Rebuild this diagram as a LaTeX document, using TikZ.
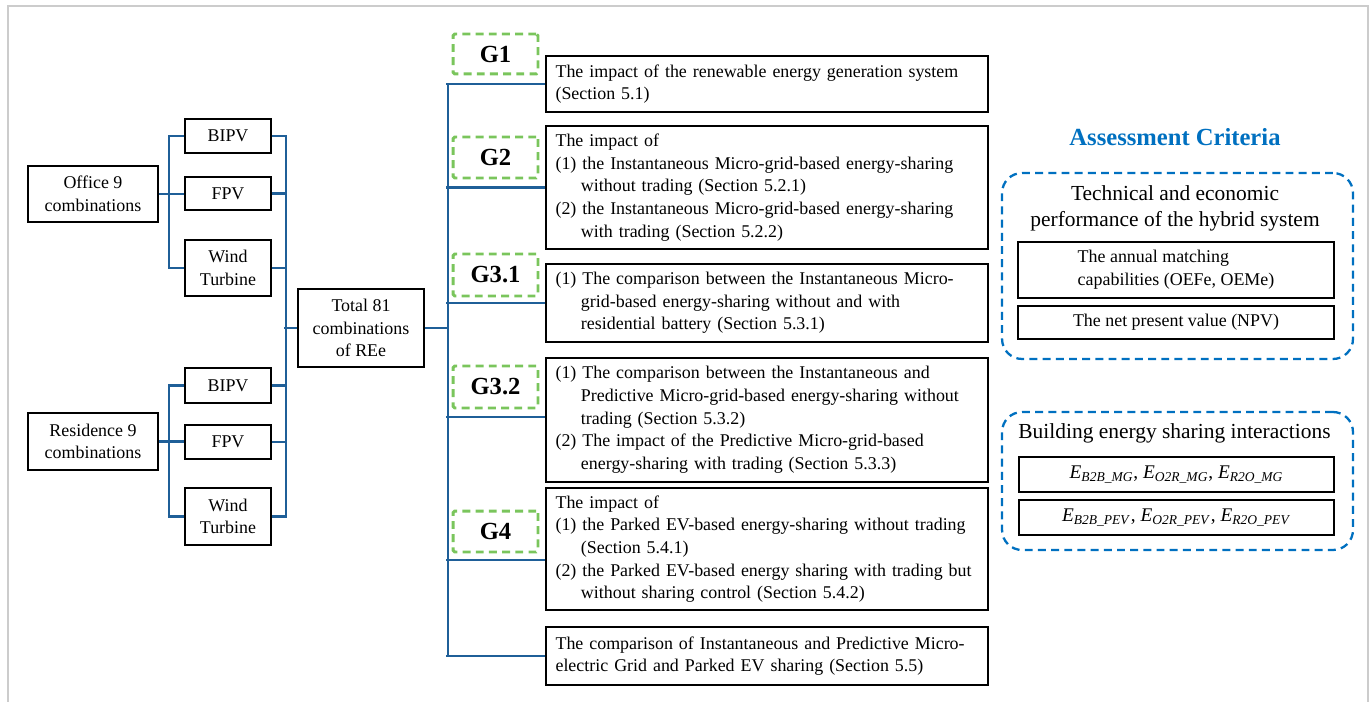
\documentclass[tikz,border=0pt]{standalone}
\usepackage{fontspec}
\setmainfont{Liberation Serif}
\usepackage{tikz}
\usetikzlibrary{positioning}
\definecolor{linkblue}{RGB}{31,95,152}
\definecolor{critblue}{RGB}{0,112,192}
\definecolor{grpgreen}{RGB}{122,197,92}
\newcommand{\hangin}{\hspace*{1.42em}}
\newcommand{\Esub}[1]{\textit{E}\textsubscript{\textit{#1}}}

\begin{document}
\begin{tikzpicture}[x=0.02cm, y=-0.02cm,
    every node/.style={font=\fontsize{10.2}{12.9}\selectfont},
    box/.style={draw, line width=1.1pt, align=center, inner sep=2pt},
    textbox/.style={draw, line width=1.1pt, align=left, text width=8.46cm, inner xsep=0.19cm, inner ysep=2pt},
    grp/.style={draw=grpgreen, line width=1.7pt, dash pattern=on 4.5pt off 3pt, rounded corners=1pt,
                minimum width=1.7cm, font=\fontsize{14}{16}\selectfont\bfseries},
    crit/.style={draw=critblue, line width=1.3pt, dash pattern=on 4.5pt off 3pt, rounded corners=0.4cm},
    link/.style={draw=linkblue, line width=1.2pt}]
    \useasboundingbox (0,0) rectangle (1371,702);

    % Frame
    \draw[gray!40, line width=1.6pt] (8,702) -- (8,6) -- (1368,6) -- (1368,702);

    % Buildings and systems
    \node[box, minimum width=2.6cm, minimum height=1.12cm] (office) at (93,194) {Office 9\\combinations};
    \node[box, minimum width=2.6cm, minimum height=1.14cm] (resid) at (93,441.5) {Residence 9\\combinations};
    \node[box, minimum width=1.72cm, minimum height=0.68cm] (bipv1) at (228,136) {BIPV};
    \node[box, minimum width=1.72cm, minimum height=0.66cm] (fpv1) at (228,193.5) {FPV};
    \node[box, minimum width=1.72cm, minimum height=1.12cm] (wt1) at (228,268) {Wind\\Turbine};
    \node[box, minimum width=1.72cm, minimum height=0.70cm] (bipv2) at (228,385.5) {BIPV};
    \node[box, minimum width=1.72cm, minimum height=0.68cm] (fpv2) at (228,442) {FPV};
    \node[box, minimum width=1.72cm, minimum height=1.14cm] (wt2) at (228,516.5) {Wind\\Turbine};
    \node[box, minimum width=2.52cm, minimum height=1.56cm] (total) at (361,328) {Total 81\\combinations\\of REe};

    % Left connectors
    \draw[link] (office.east) -- (office.east -| fpv1.west);
    \draw[link] (bipv1.west) -- ++(-15,0) |- (wt1.west);
    \draw[link] (resid.east) -- (resid.east -| fpv2.west);
    \draw[link] (bipv2.west) -- ++(-15,0) |- (wt2.west);
    \draw[link] (bipv1.east) -- ++(14,0) |- (wt2.east);
    \foreach \n in {fpv1,wt1,bipv2,fpv2} \draw[link] (\n.east) -- ++(14,0);
    \draw[link] (total.west) -- ++(-13,0);

    % Groups
    \node[textbox, minimum height=1.12cm] (g1box) at (767,84)
        {The impact of the renewable energy generation system\\(Section 5.1)};
    \node[textbox, minimum height=2.46cm] (g2box) at (767,187.5)
        {The impact of\\(1) the Instantaneous Micro-grid-based energy-sharing\\\hangin without trading (Section 5.2.1)\\(2) the Instantaneous Micro-grid-based energy-sharing\\\hangin with trading (Section 5.2.2)};
    \node[textbox, minimum height=1.56cm] (g31box) at (767,303)
        {(1) The comparison between the Instantaneous Micro-\\\hangin grid-based energy-sharing without and with\\\hangin residential battery (Section 5.3.1)};
    \node[textbox, minimum height=2.48cm] (g32box) at (767,420)
        {(1) The comparison between the Instantaneous and\\\hangin Predictive Micro-grid-based energy-sharing without\\\hangin trading (Section 5.3.2)\\(2) The impact of the Predictive Micro-grid-based\\\hangin energy-sharing with trading (Section 5.3.3)};
    \node[textbox, minimum height=2.44cm] (g4box) at (767,549)
        {The impact of\\(1) the Parked EV-based energy-sharing without trading\\\hangin (Section 5.4.1)\\(2) the Parked EV-based energy sharing with trading but\\\hangin without sharing control (Section 5.4.2)};
    \node[textbox, minimum height=1.16cm] (g5box) at (767,656)
        {The comparison of Instantaneous and Predictive Micro-\\electric Grid and Parked EV sharing (Section 5.5)};

    \node[grp, minimum height=0.80cm] (g1) at (495.5,54) {G1};
    \node[grp, minimum height=0.82cm] (g2) at (495.5,157.5) {G2};
    \node[grp, minimum height=0.84cm] (g31) at (495.5,275) {G3.1};
    \node[grp, minimum height=0.84cm] (g32) at (495.5,387) {G3.2};
    \node[grp, minimum height=0.82cm] (g4) at (495.5,531.5) {G4};

    % Middle connectors
    \draw[link] (total.east) -- ++(23,0) coordinate (hub);
    \draw[link] (hub |- g1box.west) -- (hub |- g5box.west);
    \foreach \b/\s in {g1box/0, g2box/0, g31box/0, g32box/3, g4box/-11, g5box/0}
        \draw[link] ([yshift=\s*0.02cm]\b.west) -- ++(-99,0);

    % Assessment criteria
    \node[font=\fontsize{14}{16}\selectfont\bfseries, text=critblue] (crittitle) at (1175,137) {Assessment Criteria};
    \node[crit, minimum width=7.02cm, minimum height=3.72cm] (techgrp) at (1177.5,266) {};
    \node[font=\fontsize{12.2}{14.8}\selectfont, align=center] (techlbl) at (1175,208)
        {Technical and economic\\performance of the hybrid system};
    \node[box, align=left, minimum width=6.32cm, minimum height=1.12cm] (matchbox) at (1176,270)
        {The annual matching\\capabilities (OEFe, OEMe)};
    \node[box, minimum width=6.32cm, minimum height=0.66cm] (npvbox) at (1176,322.5) {The net present value (NPV)};

    \node[crit, minimum width=7.02cm, minimum height=2.76cm] (sharegrp) at (1177.5,481) {};
    \node[font=\fontsize{12.2}{14.8}\selectfont] (sharelbl) at (1174.5,433) {Building energy sharing interactions};
    \node[box, minimum width=6.30cm, minimum height=0.70cm, font=\fontsize{11}{13}\selectfont] (mgbox) at (1176.5,474.5)
        {\Esub{B2B\_MG}, \Esub{O2R\_MG}, \Esub{R2O\_MG}};
    \node[box, minimum width=6.30cm, minimum height=0.70cm, font=\fontsize{11}{13}\selectfont] (pevbox) at (1176.5,517.5)
        {\Esub{B2B\_PEV}, \Esub{O2R\_PEV}, \Esub{R2O\_PEV}};
\end{tikzpicture}
\end{document}
